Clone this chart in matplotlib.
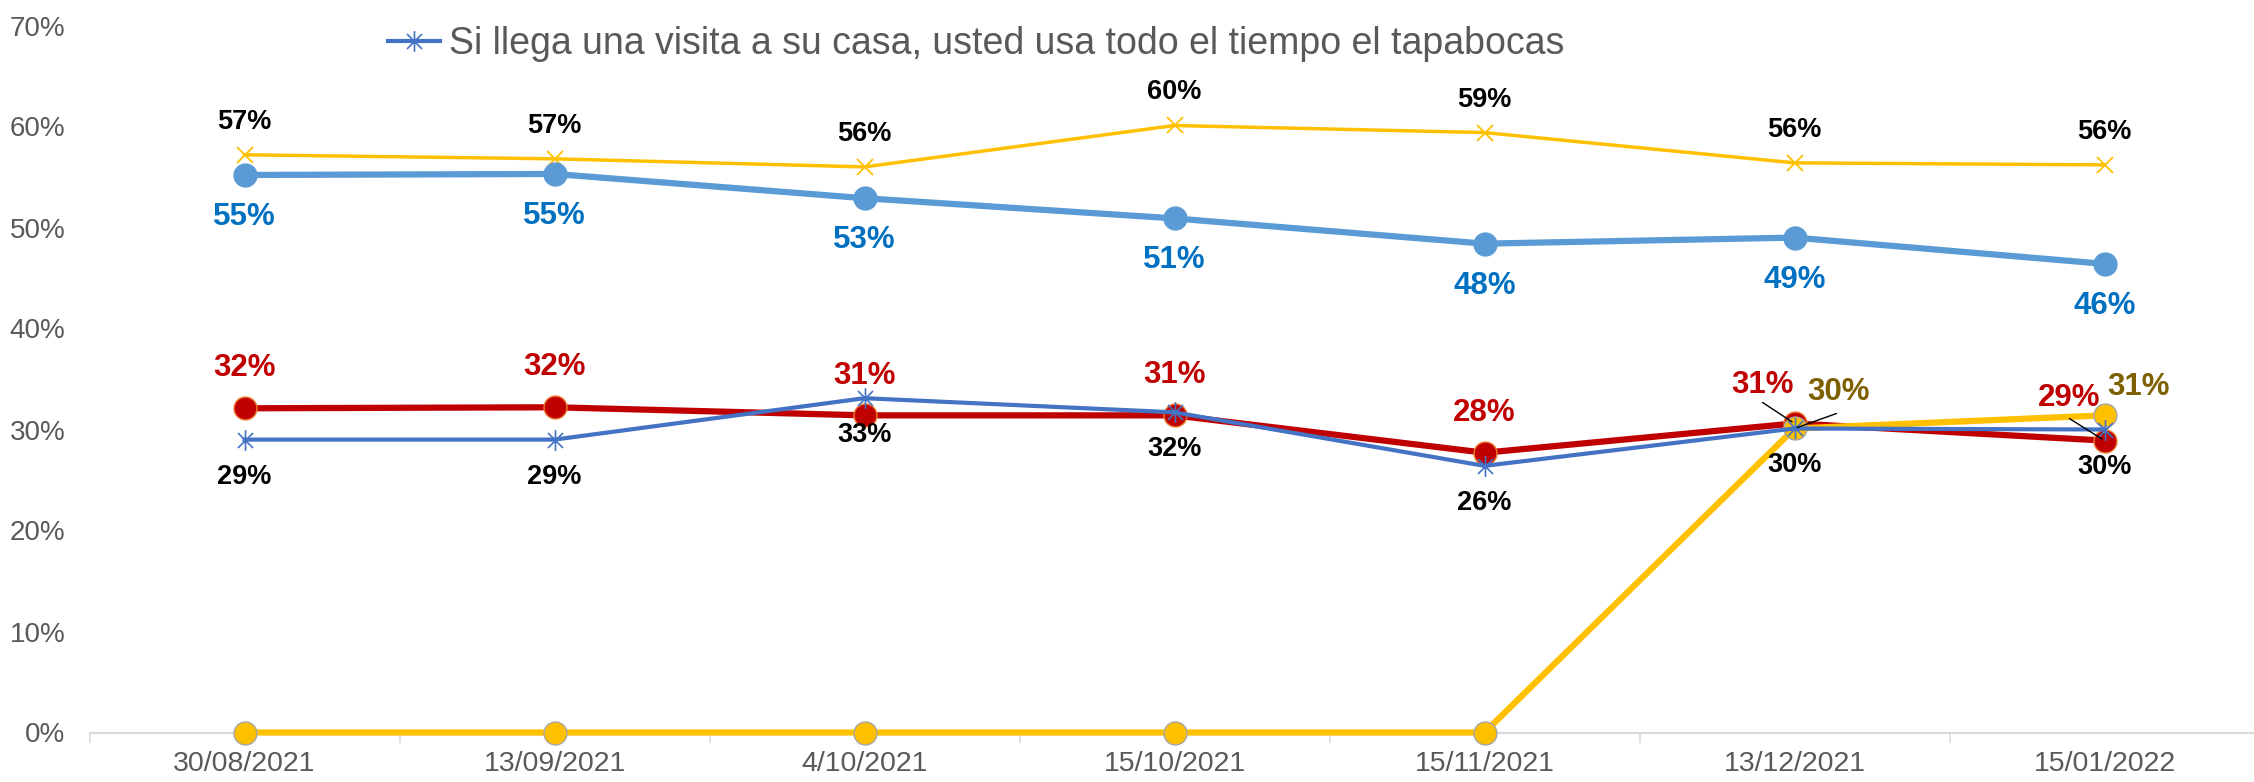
import matplotlib
matplotlib.use("Agg")
import matplotlib.pyplot as plt
from matplotlib.path import Path
from matplotlib.ticker import FixedLocator, FuncFormatter

plt.rcParams['font.family'] = ['Liberation Sans', 'DejaVu Sans']

# ---- data ----
fechas = ["30/08/2021", "13/09/2021", "4/10/2021", "15/10/2021",
          "15/11/2021", "13/12/2021", "15/01/2022"]
serie_x = [57.2, 56.8, 56.0, 60.1, 59.4, 56.4, 56.2]
serie_celeste = [55.2, 55.3, 52.9, 50.9, 48.4, 49.0, 46.4]
serie_roja = [32.1, 32.2, 31.4, 31.4, 27.7, 30.6, 28.9]
serie_asterisco = [29.0, 29.0, 33.1, 31.7, 26.4, 30.1, 30.0]
serie_dorada = [0, 0, 0, 0, 0, 30.1, 31.4]
leyenda_asterisco = "Si llega una visita a su casa, usted usa todo el tiempo el tapabocas"
y_ticks = [0, 10, 20, 30, 40, 50, 60, 70]

W, H = 2254, 782
fig = plt.figure(figsize=(W / 100, H / 100), dpi=100)
ax = fig.add_axes([89.5 / W, (H - 732.5) / H, 2170 / W, (732.5 - 25.5) / H])

xs = list(range(len(fechas)))

ast = Path([(0, -1), (0, 1), (-0.72, -0.72), (0.72, 0.72), (-0.72, 0.72), (0.72, -0.72)],
           [Path.MOVETO, Path.LINETO, Path.MOVETO, Path.LINETO, Path.MOVETO, Path.LINETO])

ax.plot(xs, serie_x, color='#FFC000', lw=2.5, marker='x', ms=12, mew=1.3, zorder=3, clip_on=False)
ax.plot(xs, serie_celeste, color='#5B9BD5', lw=4.5, marker='o', ms=16.5, mec='#5B9BD5', zorder=4, clip_on=False)
ax.plot(xs, serie_roja, color='#C00000', lw=4.5, marker='o', ms=16.5, mec='#ED7D31', mew=1.0, zorder=5, clip_on=False)
ax.plot(xs, serie_dorada, color='#FFC000', lw=4.5, marker='o', ms=16.5, mec='#A5A5A5', mew=1.0, zorder=6, clip_on=False)
l_ast, = ax.plot(xs, serie_asterisco, color='#4472C4', lw=3.0, marker=ast, ms=15, mew=1.2, zorder=7, clip_on=False)

ax.set_xlim(-0.5, len(fechas) - 0.5)
ax.set_ylim(0, 70)

# axes styling
for s in ['top', 'right', 'left']:
    ax.spines[s].set_visible(False)
ax.spines['bottom'].set_color('#D9D9D9')
ax.spines['bottom'].set_linewidth(1.5)
ax.spines['bottom'].set_zorder(1)
ax.yaxis.set_major_locator(FixedLocator(y_ticks))
ax.yaxis.set_major_formatter(FuncFormatter(lambda v, p: f"{v:.0f}%"))
ax.tick_params(axis='y', length=0, pad=17.5, labelsize=20, labelcolor='#595959')
ax.set_xticks(xs)
ax.set_xticklabels(fechas)
ax.tick_params(axis='x', which='major', length=0, pad=13, labelsize=20.5, labelcolor='#595959')
ax.set_xticks([i - 0.5 for i in range(len(fechas) + 1)], minor=True)
ax.tick_params(axis='x', which='minor', length=7, width=1.2, color='#D9D9D9', direction='out')


def lab(x, y, txt, dx, dy, color, size):
    ax.annotate(txt, (x, y), xytext=(dx, dy), textcoords='offset points',
                ha='center', va='center', fontsize=size, fontweight='bold',
                color=color, zorder=10)


PX = 0.72  # px -> pt
for i, v in enumerate(serie_x):
    lab(i, v, f"{v:.0f}%", 0, 33 * PX, 'black', 19.5)
for i, v in enumerate(serie_celeste):
    lab(i, v, f"{v:.0f}%", 0, -42 * PX, '#0070C0', 22.5)

red_off = [(0, 40), (0, 40), (0, 39), (0, 40), (0, 40), (-32, 38), (-35, 43)]
for i, v in enumerate(serie_roja):
    dx, dy = red_off[i]
    lab(i, v, f"{v:.0f}%", dx * PX, dy * PX, '#C00000', 22.5)

for i, v in enumerate(serie_asterisco):
    lab(i, v, f"{v:.0f}%", 0, -37 * PX, 'black', 19.5)

gold_off = {5: (44, 36), 6: (34, 28)}
for i, v in enumerate(serie_dorada):
    if v > 0:
        dx, dy = gold_off[i]
        lab(i, v, f"{v:.0f}%", dx * PX, dy * PX, '#7F6000', 22.5)

# leader lines
leaders = [(5, serie_roja[5], (-32, 21)), (5, serie_dorada[5], (42, 15)), (6, serie_roja[6], (-35, 22))]
for i, v, (dx, dy) in leaders:
    ax.annotate('', xy=(i, v), xytext=(dx * PX, dy * PX), textcoords='offset points',
                arrowprops=dict(arrowstyle='-', color='black', lw=1.0, shrinkA=0, shrinkB=2),
                zorder=9)

# legend (only the visible entry)
fig.legend([l_ast], [leyenda_asterisco], loc='center left',
           bbox_to_anchor=(388 / W, 1 - 44 / H), frameon=False, fontsize=27,
           handlelength=1.385, handletextpad=0.24, borderpad=0, borderaxespad=0,
           labelcolor='#595959')

fig.savefig("out.png", dpi=100)
